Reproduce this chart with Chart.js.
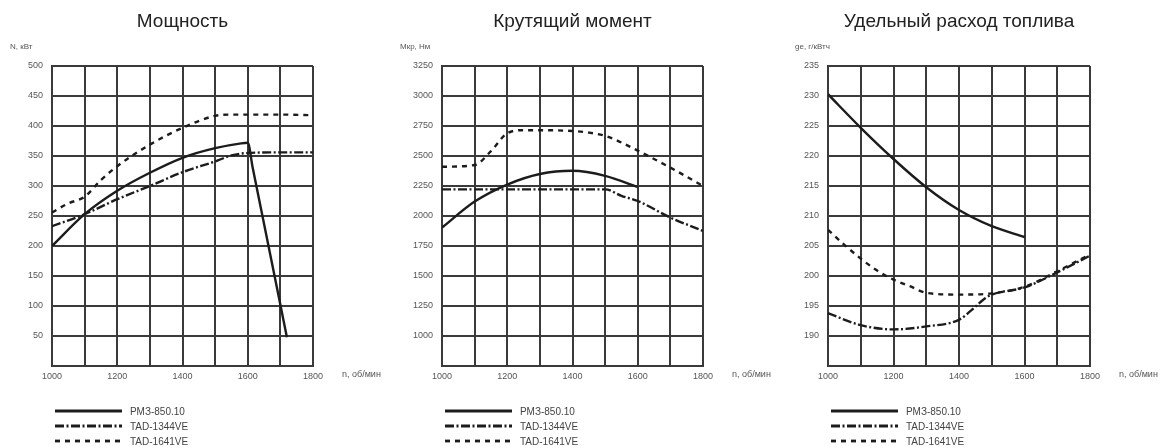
<!DOCTYPE html>
<html lang="ru">
<head>
<meta charset="utf-8">
<title>Характеристики двигателей</title>
<script src="https://cdn.jsdelivr.net/npm/chart.js@4.4.1/dist/chart.umd.min.js"></script>
<style>
  html, body { margin: 0; padding: 0; background: #fff; }
  .sheet { position: relative; width: 1166px; height: 448px; overflow: hidden; }
  .sheet canvas { position: absolute; top: 0; }
</style>
</head>
<body>
<div class="sheet">
  <canvas id="chart-power" width="390" height="448" style="left:0"></canvas>
  <canvas id="chart-torque" width="390" height="448" style="left:390px"></canvas>
  <canvas id="chart-fuel" width="386" height="448" style="left:780px"></canvas>
</div>
<script>
const seriesLabels = ['РМЗ-850.10', 'TAD-1344VE', 'TAD-1641VE'];

// Мощность, кВт
const powerRmzRpm = [1000, 1100, 1200, 1300, 1400, 1500, 1580, 1600, 1615, 1700, 1720];
const powerRmz    = [200, 253, 292, 322, 347, 363, 371, 372, 331, 102, 48];
const power1344Rpm = [1000, 1100, 1200, 1300, 1400, 1500, 1550, 1600, 1700, 1800];
const power1344    = [233, 253, 278, 300, 323, 341, 351, 355, 356, 356];
const power1641Rpm = [1000, 1050, 1100, 1150, 1200, 1300, 1400, 1500, 1550, 1600, 1700, 1800];
const power1641    = [256, 271, 282, 310, 333, 369, 397, 417, 419, 419, 419, 418];

// Крутящий момент, Нм
const torqueRmzRpm = [1000, 1100, 1200, 1300, 1400, 1500, 1600];
const torqueRmz    = [1903, 2120, 2262, 2350, 2377, 2335, 2242];
const torque1344Rpm = [1000, 1500, 1550, 1600, 1700, 1800];
const torque1344    = [2222, 2222, 2168, 2125, 1987, 1875];
const torque1641Rpm = [1000, 1100, 1150, 1200, 1250, 1300, 1400, 1450, 1500, 1550, 1600, 1700, 1800];
const torque1641    = [2410, 2425, 2540, 2690, 2715, 2715, 2708, 2695, 2668, 2612, 2545, 2403, 2250];

// Удельный расход топлива, г/кВтч
const fuelRmzRpm = [1000, 1100, 1200, 1300, 1400, 1500, 1600];
const fuelRmz    = [230.3, 224.7, 219.5, 214.8, 211.0, 208.3, 206.5];
const fuel1344Rpm = [1000, 1100, 1200, 1300, 1400, 1440, 1480, 1500, 1600, 1700, 1800];
const fuel1344    = [193.8, 191.8, 191.1, 191.6, 192.7, 194.4, 196.3, 196.9, 198.1, 200.6, 203.4];
const fuel1641Rpm = [1000, 1050, 1100, 1150, 1200, 1250, 1300, 1400, 1500, 1600, 1700, 1800];
const fuel1641    = [207.7, 205.2, 202.9, 200.9, 199.4, 198.3, 197.2, 196.9, 197.1, 198.2, 200.8, 203.6];

const FONT = 'Arial, "Liberation Sans", Helvetica, sans-serif';
const INK = '#1c1c1c';
const GRID = '#3a3a3a';
// сплошная, штрихпунктир, штрих
const DASHES = [[], [9, 2.5, 2, 2.5], [5, 5]];

Chart.defaults.font.family = FONT;

function toPoints(rpm, values) {
  return rpm.map((x, i) => ({ x, y: values[i] }));
}

function makeDatasets(pairs) {
  return pairs.map(([rpm, values], i) => ({
    label: seriesLabels[i],
    data: toPoints(rpm, values),
    borderColor: INK,
    borderWidth: 2.4,
    borderDash: DASHES[i],
    fill: false
  }));
}

// заголовки, подписи осей и легенда под графиком
const sheetText = {
  id: 'sheetText',
  afterDraw(chart, args, opts) {
    const { ctx, chartArea: a } = chart;
    ctx.save();
    ctx.textBaseline = 'middle';

    ctx.fillStyle = '#222';
    ctx.font = `19px ${FONT}`;
    ctx.textAlign = 'center';
    ctx.fillText(opts.title, (a.left + a.right) / 2, 22);

    ctx.fillStyle = '#555';
    ctx.font = `8px ${FONT}`;
    ctx.textAlign = 'left';
    ctx.fillText(opts.yTitle, opts.yTitleX, 47);
    ctx.font = `9px ${FONT}`;
    ctx.fillText('n, об/мин', a.right + 29, 375);

    chart.data.datasets.forEach((ds, i) => {
      const y = 411 + i * 15;
      ctx.beginPath();
      ctx.setLineDash(ds.borderDash);
      ctx.lineWidth = 2.8;
      ctx.strokeStyle = ds.borderColor;
      ctx.moveTo(a.left + 3, y);
      ctx.lineTo(a.left + 70, y);
      ctx.stroke();
      ctx.setLineDash([]);
      ctx.fillStyle = '#444';
      ctx.font = `10px ${FONT}`;
      ctx.fillText(ds.label, a.left + 78, y + 1);
    });
    ctx.restore();
  }
};

function makeChart(id, datasets, axis, text) {
  return new Chart(document.getElementById(id), {
    type: 'line',
    data: { datasets },
    plugins: [sheetText],
    options: {
      responsive: false,
      animation: false,
      events: [],
      layout: { padding: { top: 66, right: axis.padRight, left: 0, bottom: 0 } },
      elements: {
        point: { radius: 0 },
        line: { cubicInterpolationMode: 'monotone' }
      },
      plugins: {
        legend: { display: false },
        tooltip: { enabled: false },
        sheetText: text
      },
      scales: {
        x: {
          type: 'linear',
          min: 1000,
          max: 1800,
          ticks: {
            stepSize: 100,
            autoSkip: false,
            maxRotation: 0,
            padding: 5,
            color: '#555',
            font: { size: 9 },
            callback: v => (v % 200 === 0 ? String(v) : '')
          },
          grid: { color: GRID, lineWidth: 2, drawTicks: false },
          border: { color: GRID, width: 2 },
          afterFit: s => { s.height = 82; }
        },
        y: {
          min: axis.min,
          max: axis.max,
          ticks: {
            stepSize: axis.step,
            padding: 9,
            color: '#555',
            font: { size: 9 },
            callback: v => (v === axis.min ? '' : String(v))
          },
          grid: { color: GRID, lineWidth: 2, drawTicks: false },
          border: { color: GRID, width: 2 },
          afterFit: s => { s.width = axis.left; }
        }
      }
    }
  });
}

makeChart('chart-power',
  makeDatasets([[powerRmzRpm, powerRmz], [power1344Rpm, power1344], [power1641Rpm, power1641]]),
  { min: 0, max: 500, step: 50, left: 52, padRight: 77 },
  { title: 'Мощность', yTitle: 'N, кВт', yTitleX: 10 });

makeChart('chart-torque',
  makeDatasets([[torqueRmzRpm, torqueRmz], [torque1344Rpm, torque1344], [torque1641Rpm, torque1641]]),
  { min: 750, max: 3250, step: 250, left: 52, padRight: 77 },
  { title: 'Крутящий момент', yTitle: 'Мкр, Нм', yTitleX: 10 });

makeChart('chart-fuel',
  makeDatasets([[fuelRmzRpm, fuelRmz], [fuel1344Rpm, fuel1344], [fuel1641Rpm, fuel1641]]),
  { min: 185, max: 235, step: 5, left: 48, padRight: 76 },
  { title: 'Удельный расход топлива', yTitle: 'ge, г/кВтч', yTitleX: 15 });
</script>
</body>
</html>
